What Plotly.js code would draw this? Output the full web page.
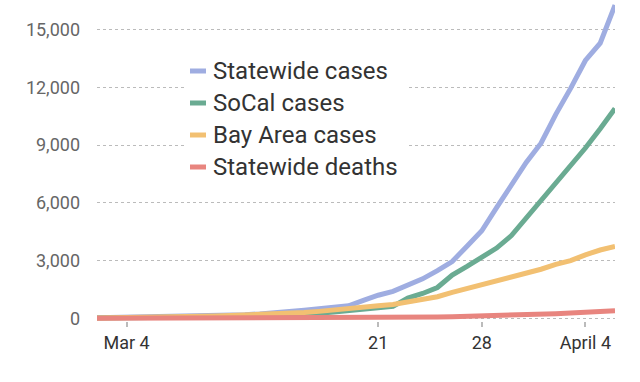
<!DOCTYPE html>
<html>
<head>
<meta charset="utf-8">
<script src="https://cdn.plot.ly/plotly-3.0.1.min.js"></script>
<style>
html,body{margin:0;padding:0;background:#fff;}
#chart{width:640px;height:382px;}
</style>
</head>
<body>
<div id="chart"></div>
<script>
var dates = ['2020-03-02','2020-03-03','2020-03-04','2020-03-05','2020-03-06','2020-03-07','2020-03-08','2020-03-09','2020-03-10','2020-03-11','2020-03-12','2020-03-13','2020-03-14','2020-03-15','2020-03-16','2020-03-17','2020-03-18','2020-03-19','2020-03-20','2020-03-21','2020-03-22','2020-03-23','2020-03-24','2020-03-25','2020-03-26','2020-03-27','2020-03-28','2020-03-29','2020-03-30','2020-03-31','2020-04-01','2020-04-02','2020-04-03','2020-04-04','2020-04-05','2020-04-06'];

var statewideCases = [30,40,50,60,70,85,100,115,135,160,190,230,280,340,420,500,580,650,930,1200,1400,1700,2050,2480,2950,3750,4550,5750,6900,8100,9100,10600,11950,13400,14300,16280];
var socalCases = [10,12,15,20,25,30,40,50,60,75,95,120,145,170,210,260,330,410,470,540,620,1050,1290,1600,2250,2700,3200,3650,4300,5200,6150,7050,7900,8850,9850,10900];
var bayAreaCases = [20,25,35,45,55,70,85,100,120,140,165,190,220,250,300,360,420,470,560,650,720,850,960,1120,1350,1550,1700,1900,2150,2350,2550,2800,3000,3300,3550,3730];
var statewideDeaths = [0,0,1,1,1,1,1,1,2,3,4,4,5,6,7,11,16,18,24,27,30,38,50,65,80,95,115,130,150,175,205,240,275,310,345,390];

var seriesNames = ['Statewide cases','SoCal cases','Bay Area cases','Statewide deaths'];
var seriesColors = ['#9fade1','#6aab92','#f2c072','#e8857f'];
var seriesValues = [statewideCases, socalCases, bayAreaCases, statewideDeaths];

var tickDates = ['2020-03-04','2020-03-21','2020-03-28','2020-04-04'];
var tickLabels = ['Mar 4','21','28','April 4'];
var yTicks = [0,3000,6000,9000,12000,15000];
var yTickLabels = ['0','3,000','6,000','9,000','12,000','15,000'];

var traces = seriesValues.map(function(v,i){
  return {x: dates, y: v, type:'scatter', mode:'lines', name: seriesNames[i],
          line:{color: seriesColors[i], width:5}, showlegend:false, hoverinfo:'skip'};
});

// layout geometry (pixels)
var W=640,H=382, mL=97, mR=25, mT=0, mB=61;
var pw=W-mL-mR, ph=H-mT-mB;
function px(x){return (x-mL)/pw;}
function py(y){return (H-mB-y)/ph;}

var shapes = [{type:'rect', xref:'paper', yref:'paper', x0:px(187), x1:px(406), y0:py(190), y1:py(50),
  fillcolor:'#ffffff', line:{width:0}, layer:'above'}];
var annotations = [];
var legY = [71,103,135,167];
seriesNames.forEach(function(n,i){
  shapes.push({type:'line', xref:'paper', yref:'paper', x0:px(190), x1:px(206), y0:py(legY[i]), y1:py(legY[i]),
    line:{color:seriesColors[i], width:5}, layer:'above'});
  annotations.push({xref:'paper', yref:'paper', x:px(211), y:py(legY[i]), xanchor:'left', yanchor:'middle',
    text:n, showarrow:false, font:{family:'Roboto', size:24, color:'#333333'}});
});

var layout = {
  width:W, height:H,
  margin:{l:mL, r:mR, t:mT, b:mB, pad:0},
  paper_bgcolor:'#ffffff', plot_bgcolor:'#ffffff',
  font:{family:'Roboto', color:'#333333'},
  showlegend:false,
  xaxis:{type:'date', range:['2020-03-02','2020-04-06'], tickmode:'array', tickvals:tickDates, ticktext:tickLabels,
    showgrid:false, zeroline:false, showline:false, ticks:'outside', ticklen:5, tickwidth:2, tickcolor:'#bbbbbb',
    tickfont:{family:'Roboto', size:18, color:'#333333'}, fixedrange:true},
  yaxis:{range:[-140,16544], tickmode:'array', tickvals:yTicks, ticktext:yTickLabels,
    showgrid:true, gridcolor:'#bbbbbb', griddash:'dot', gridwidth:1, zeroline:false, showline:false,
    ticks:'', ticklabelstandoff:16, tickfont:{family:'Roboto', size:18, color:'#666666'}, fixedrange:true},
  shapes:shapes,
  annotations:annotations
};

Plotly.newPlot('chart', traces, layout, {displayModeBar:false, staticPlot:true});
</script>
</body>
</html>
